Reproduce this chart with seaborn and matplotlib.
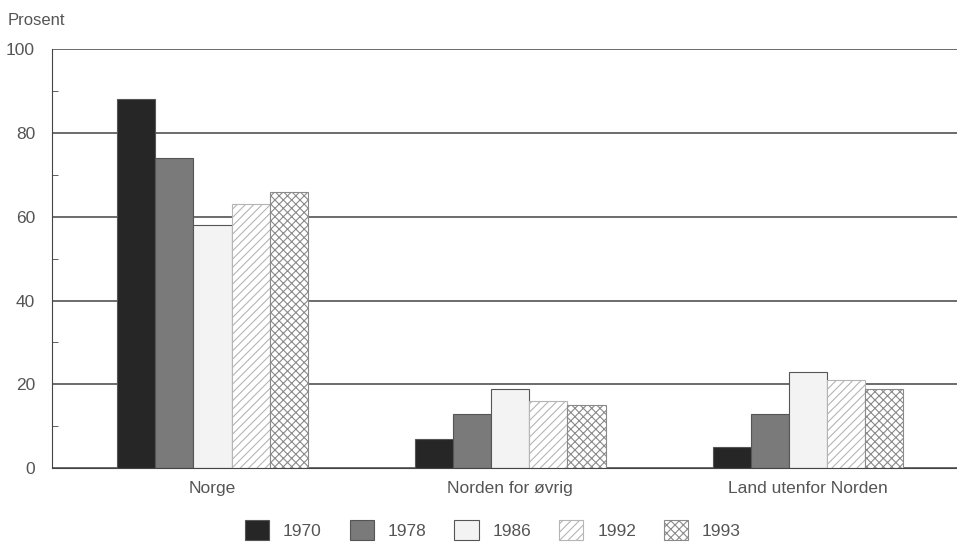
import pandas as pd
import numpy as np
import matplotlib
matplotlib.use("Agg")
import matplotlib.pyplot as plt
import seaborn as sns
from matplotlib.patches import Patch
from matplotlib.ticker import MultipleLocator

# data
regions = ["Norge", "Norden for øvrig", "Land utenfor Norden"]
years = ["1970", "1978", "1986", "1992", "1993"]
v1970 = [88, 7, 5]
v1978 = [74, 13, 13]
v1986 = [58, 19, 23]
v1992 = [63, 16, 21]
v1993 = [66, 15, 19]

face_colors = ["#262626", "#7a7a7a", "#f3f3f3", "#ffffff", "#ffffff"]
hatches = [None, None, None, "////", "xxxx"]
hatch_colors = [None, None, None, "#b5b5b5", "#8a8a8a"]

rows = []
for yr, vals in zip(years, [v1970, v1978, v1986, v1992, v1993]):
    for reg, v in zip(regions, vals):
        rows.append({"region": reg, "year": yr, "value": v})
df = pd.DataFrame(rows)

sns.set_style("white")
plt.rcParams["font.family"] = ["Liberation Sans Narrow", "Liberation Sans", "DejaVu Sans"]
plt.rcParams["hatch.linewidth"] = 0.8

fig = plt.figure(figsize=(9.57, 5.45), dpi=100)
ax = fig.add_axes([0.054, 0.141, 0.946, 0.769])

sns.barplot(data=df, x="region", y="value", hue="year", order=regions,
            hue_order=years, palette=face_colors, width=0.64, gap=0,
            edgecolor="#555555", linewidth=0.8, saturation=1, legend=False, ax=ax)

# hatch the last two years like the printed chart
for i, cont in enumerate(ax.containers):
    for bar in cont:
        bar.set_facecolor(face_colors[i])
        if hatches[i]:
            bar.set_hatch(hatches[i])
            bar.set_edgecolor(hatch_colors[i])

ax.set_ylim(0, 100)
ax.set_xlim(-0.54, 2.5)
ax.yaxis.set_major_locator(MultipleLocator(20))
ax.yaxis.set_minor_locator(MultipleLocator(10))
ax.grid(axis="y", which="major", color="#444444", linewidth=1.1)
ax.set_axisbelow(True)
for s in ["top", "right"]:
    ax.spines[s].set_visible(False)
ax.spines["left"].set_color("#444444")
ax.spines["bottom"].set_color("#444444")
ax.tick_params(axis="y", which="major", length=0, labelsize=12.5, labelcolor="#555555", pad=12)
ax.tick_params(axis="y", which="minor", direction="in", length=4, color="#444444", left=True)
ax.tick_params(axis="x", length=0, labelsize=12.5, labelcolor="#555555", pad=9)
ax.set_xlabel("")
ax.set_ylabel("")
fig.text(0.008, 0.955, "Prosent", fontsize=12, color="#555555")

handles = []
for i in range(len(years)):
    handles.append(Patch(facecolor=face_colors[i], edgecolor=hatch_colors[i] or "#555555",
                         hatch=hatches[i], linewidth=0.8))
fig.legend(handles, years, loc="lower center", bbox_to_anchor=(0.515, -0.02), ncol=5,
           frameon=False, fontsize=12.5, handlelength=1.4, handleheight=1.4,
           columnspacing=1.6, handletextpad=0.8, labelcolor="#555555")

fig.savefig("out.png", dpi=100)
